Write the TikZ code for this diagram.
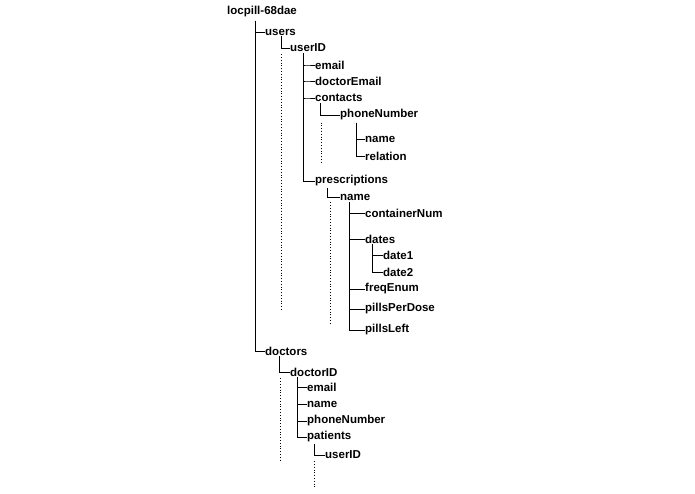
\documentclass[tikz,border=0pt]{standalone}
\usepackage{fontspec}
\setmainfont{Liberation Sans}
\usetikzlibrary{positioning}

\begin{document}
\begin{tikzpicture}[x=1pt, y=-1pt,
    key/.style={anchor=west, inner sep=0pt, font=\fontsize{11.5}{13}\selectfont\bfseries},
    branch/.style={draw, line width=0.8pt},
    stub/.style={draw, dotted, line width=0.8pt}]
  \useasboundingbox (0,0) rectangle (695,494);

  \node[key] (root) at (227,12) {locpill-68dae};
  \node[key] (users) at (265,32) {users};
  \node[key] (uid) at (290,48) {userID};
  \node[key] (email) at (315,65) {email};
  \node[key] (demail) at (315,81) {doctorEmail};
  \node[key] (contacts) at (315,98) {contacts};
  \node[key] (phone) at (340,115) {phoneNumber};
  \node[key] (cname) at (365,139) {name};
  \node[key] (relation) at (365,156) {relation};
  \node[key] (presc) at (315,181) {prescriptions};
  \node[key] (pname) at (340,197) {name};
  \node[key] (cont) at (365,213) {containerNum};
  \node[key] (dates) at (365,239) {dates};
  \node[key] (date1) at (383,255) {date1};
  \node[key] (date2) at (383,272) {date2};
  \node[key] (freq) at (365,289) {freqEnum};
  \node[key] (ppd) at (365,309) {pillsPerDose};
  \node[key] (left) at (365,330) {pillsLeft};
  \node[key] (doctors) at (265,351) {doctors};
  \node[key] (did) at (290,372) {doctorID};
  \node[key] (demail2) at (307,387) {email};
  \node[key] (dname) at (307,404) {name};
  \node[key] (dphone) at (307,421) {phoneNumber};
  \node[key] (patients) at (307,437) {patients};
  \node[key] (puid) at (325,455) {userID};

  % tree lines
  \draw[branch] ([xshift=28pt,yshift=-3pt]root.south west) |- (users.west);
  \draw[branch] ([xshift=28pt,yshift=-3pt]root.south west) |- (doctors.west);
  \draw[branch] ([xshift=16pt,yshift=-1pt]users.south west) |- (uid.west);
  \draw[branch] ([xshift=13pt,yshift=-1pt]uid.south west) |- (presc.west);
  \foreach \k in {email,demail,contacts}
    \draw[branch] ([xshift=13pt,yshift=-1pt]uid.south west) |- ([xshift=-9pt]\k.west) -- (\k.west);
  \draw[branch] ([xshift=5pt,yshift=-1pt]contacts.south west) |- (phone.west);
  \draw[branch] ([xshift=16pt,yshift=-2pt]phone.south west) |- (relation.west);
  \draw[branch] ([xshift=16pt,yshift=-2pt]phone.south west) |- (cname.west);
  \draw[branch] ([xshift=12pt,yshift=-1pt]presc.south west) |- (pname.west);
  \draw[branch] ([xshift=9pt,yshift=-2pt]pname.south west) |- (left.west);
  \foreach \k in {cont,dates,freq,ppd}
    \draw[branch] ([xshift=9pt,yshift=-2pt]pname.south west) |- (\k.west);
  \draw[branch] ([xshift=7pt,yshift=-1pt]dates.south west) |- (date2.west);
  \draw[branch] ([xshift=7pt,yshift=-1pt]dates.south west) |- (date1.west);
  \draw[branch] ([xshift=14pt,yshift=-1pt]doctors.south west) |- (did.west);
  \draw[branch] ([xshift=7pt,yshift=-1pt]did.south west) |- (patients.west);
  \foreach \k in {demail2,dname,dphone}
    \draw[branch] ([xshift=7pt,yshift=-1pt]did.south west) |- (\k.west);
  \draw[branch] ([xshift=7pt,yshift=-1pt]patients.south west) |- (puid.west);

  % dotted continuations
  \coordinate (uend) at (281,310);
  \coordinate (cend) at (321,162);
  \coordinate (pend) at (330,325);
  \coordinate (dend) at (280,462);
  \coordinate (aend) at (314,488);
  \draw[stub] ([xshift=-9pt,yshift=-2pt]uid.south west) -- (uend);
  \draw[stub] ([xshift=-19pt,yshift=-2pt]phone.south west) -- (cend);
  \draw[stub] ([xshift=-10pt,yshift=-2pt]pname.south west) -- (pend);
  \draw[stub] ([xshift=-10pt,yshift=-2pt]did.south west) -- (dend);
  \draw[stub] ([xshift=-11pt,yshift=-2pt]puid.south west) -- (aend);
\end{tikzpicture}
\end{document}
